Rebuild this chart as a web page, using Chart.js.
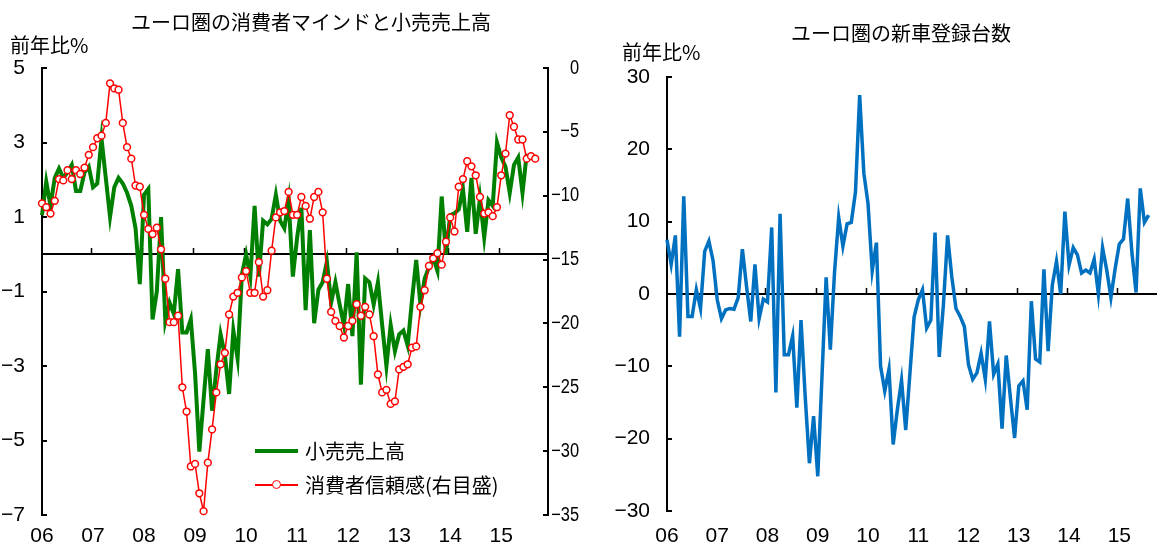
<!DOCTYPE html>
<html>
<head>
<meta charset="utf-8">
<script src="https://cdn.jsdelivr.net/npm/chart.js@4/dist/chart.umd.min.js"></script>
<style>
  html, body { margin: 0; padding: 0; background: #fff; }
  body { width: 1157px; height: 545px; position: relative; overflow: hidden; font-family: 'Noto Sans CJK JP', 'Noto Sans', sans-serif; color: #000; }
  canvas { position: absolute; top: 0; }
  #c1 { left: 0; }
  #c2 { left: 580px; }
  .t { position: absolute; font-size: 20px; line-height: 1; white-space: nowrap; }
  .lg-green { position: absolute; left: 255px; top: 449px; width: 43px; height: 4px; background: #008000; }
  .lg-red { position: absolute; left: 255px; top: 484px; width: 43px; height: 1.5px; background: #ff0000; }
  .lg-dot { position: absolute; left: 271.5px; top: 479.5px; width: 7px; height: 7px; border: 1.5px solid #ff0000; border-radius: 50%; background: #fff; }
</style>
</head>
<body>
<canvas id="c1" width="580" height="545"></canvas>
<canvas id="c2" width="577" height="545"></canvas>

<div class="t" style="left:131px;top:12px;">ユーロ圏の消費者マインドと小売売上高</div>
<div class="t" style="left:10px;top:35px;">前年比%</div>
<div class="t" style="left:791px;top:23px;">ユーロ圏の新車登録台数</div>
<div class="t" style="left:622px;top:42px;">前年比%</div>

<div class="lg-green"></div>
<div class="t" style="left:305px;top:441px;">小売売上高</div>
<div class="lg-red"></div>
<div class="lg-dot"></div>
<div class="t" style="left:305px;top:475px;">消費者信頼感(右目盛)</div>

<script>
// ---- data (monthly, Jan 2006 onward) ----
const yearLabels = ['06','07','08','09','10','11','12','13','14','15'];

// Euro area retail sales, % y/y (left axis), Jan 2006 - Jul 2015
const retailSales = [
  1.05, 1.95, 1.3, 2.05, 2.3, 2.05, 2.2, 2.4, 1.7, 1.7,
  2.2, 2.35, 1.8, 1.9, 3.1, 2.05, 1.0, 1.8, 2.05, 1.9,
  1.65, 1.3, 0.7, -0.8, 1.6, 1.75, -1.75, -1.0, 1.0, -1.8,
  -1.3, -1.6, -0.4, -2.1, -2.1, -1.75, -3.2, -5.3, -3.9, -2.55,
  -4.2, -3.1, -2.15, -2.7, -3.75, -2.05, -2.8, -0.55, 0.0, -0.6,
  1.3, -0.6, 0.9, 0.8, 0.95, 1.6, 0.9, 0.7, 1.45, -0.6,
  0.45, 1.25, -1.5, 0.65, -1.85, -0.95, -0.75, -0.2, -1.3, -0.75,
  -1.35, -1.9, -0.8, -2.2, 0.05, -3.5, -0.65, -0.75, -1.35, -0.75,
  -1.9, -3.0, -1.9, -2.6, -2.15, -2.05, -2.45, -1.25, -0.15, -1.35,
  -0.65, -0.35, -0.1, -0.45, 1.55, 0.0, 1.05, 1.1, 1.2, 1.75,
  0.6, 2.05, 0.55, 1.5, 0.45, 1.45, 1.3, 3.0, 2.6, 2.35,
  1.65, 2.4, 2.6, 1.65, 2.7
];

// Euro area consumer confidence (right axis), Jan 2006 - Sep 2015
const consumerConfidence = [
  -10.6, -10.9, -11.4, -10.4, -8.7, -8.8, -8.0, -8.7, -8.0, -8.3,
  -7.8, -6.8, -6.2, -5.5, -5.3, -4.3, -1.2, -1.6, -1.7, -4.3,
  -6.2, -7.1, -9.2, -9.3, -11.5, -12.6, -13.0, -12.5, -14.2, -16.5,
  -19.9, -19.9, -19.4, -25.0, -26.9, -31.2, -31.0, -33.3, -34.7, -30.9,
  -28.3, -25.4, -23.2, -22.3, -19.3, -17.9, -17.6, -16.4, -15.9, -17.6,
  -17.6, -15.2, -17.9, -17.4, -14.3, -11.7, -11.3, -11.2, -9.7, -11.5,
  -11.5, -10.1, -10.8, -11.8, -10.1, -9.7, -11.3, -16.5, -19.1, -19.8,
  -20.2, -21.1, -20.2, -19.8, -18.5, -19.4, -18.7, -19.3, -21.0, -24.0,
  -25.4, -25.2, -26.3, -26.1, -23.6, -23.4, -23.2, -21.9, -21.8, -18.7,
  -17.4, -15.5, -14.9, -14.5, -15.4, -13.6, -11.7, -12.8, -9.3, -8.7,
  -7.3, -7.7, -8.4, -10.1, -11.4, -11.3, -11.6, -10.9, -8.4, -6.7,
  -3.7, -4.6, -5.6, -5.6, -7.1, -6.9, -7.1
];

// Euro area new car registrations, % y/y, Jan 2006 - Aug 2015
const carRegistrations = [
  7.5, 4.1, 8.1, -5.9, 13.5, -3.1, -3.1, 0.6, -2.0, 5.9,
  7.3, 4.6, -0.8, -3.4, -2.2, -2.0, -2.1, -0.5, 6.2, 1.0,
  -3.8, 4.1, -3.4, -0.7, -1.1, 9.2, -13.6, 11.1, -8.4, -8.4,
  -5.8, -15.7, -3.6, -14.2, -23.4, -16.9, -25.2, -11.5, 2.3, -7.7,
  3.0, 10.6, 6.6, 9.7, 9.9, 14.1, 27.5, 16.7, 12.5, 3.2,
  7.1, -10.0, -13.4, -10.4, -20.8, -16.0, -11.9, -18.8, -11.0, -3.2,
  -0.8, 0.6, -4.7, -3.6, 8.5, -8.7, -1.5, 8.1, 2.4, -2.0,
  -3.1, -4.5, -9.8, -11.8, -10.9, -8.2, -11.8, -3.8, -11.1, -9.7,
  -18.6, -8.5, -14.4, -19.9, -12.7, -12.0, -16.0, -1.0, -9.0, -9.4,
  3.4, -7.9, 1.2, 4.5, 0.0, 11.4, 4.0, 6.4, 5.4, 2.9,
  3.3, 2.9, 4.8, 0.0, 6.4, 3.3, -0.5, 3.5, 6.9, 7.6,
  13.2, 5.8, 0.2, 14.6, 9.9, 10.9
];

// ---- helpers ----
const toPoints = arr => arr.map((v, i) => ({ x: i, y: v }));
const numFamily = "'Liberation Sans Narrow', 'Liberation Sans', 'Arial Narrow', sans-serif";
const numFont = { family: numFamily, size: 21 };
const fmt = v => (v < 0 ? '\u2212' + Math.abs(v) : String(v));

const axisDecor = {
  id: 'axisDecor',
  beforeDatasetsDraw(chart) {
    const ctx = chart.ctx, ca = chart.chartArea;
    const xs = chart.scales.x, ys = chart.scales.y;
    const y0 = Math.round(ys.getPixelForValue(0));
    ctx.save();
    ctx.strokeStyle = '#000';
    ctx.lineWidth = 2;
    ctx.beginPath();
    ctx.moveTo(ca.left, y0);
    ctx.lineTo(ca.right, y0);
    ctx.stroke();
    // year boundary tick marks on the zero line (pointing up)
    ctx.lineWidth = 1.5;
    ctx.beginPath();
    xs.ticks.forEach(t => {
      if (t.value <= 0) return;
      const px = Math.round(xs.getPixelForValue(t.value - 0.5)) + 0.5;
      ctx.moveTo(px, y0);
      ctx.lineTo(px, y0 - 6);
    });
    ctx.stroke();
    ctx.restore();
  },
  afterDraw(chart) {
    const ctx = chart.ctx, ca = chart.chartArea;
    ctx.save();
    ctx.strokeStyle = '#000';
    ctx.lineWidth = 2;
    ctx.beginPath();
    Object.values(chart.scales).forEach(s => {
      if (s.axis !== 'y') return;
      s.ticks.forEach(t => {
        const py = Math.round(s.getPixelForValue(t.value));
        if (s.position === 'left') {
          ctx.moveTo(ca.left, py); ctx.lineTo(ca.left + 5, py);
        } else {
          ctx.moveTo(ca.right, py); ctx.lineTo(ca.right - 5, py);
        }
      });
    });
    ctx.stroke();
    // right-axis labels: right-aligned, slightly condensed to fit beside the axis
    const s2 = chart.scales.y2;
    if (s2) {
      ctx.fillStyle = '#000';
      ctx.font = '20px ' + numFamily;
      ctx.textAlign = 'right';
      ctx.textBaseline = 'middle';
      s2.ticks.forEach(t => {
        const py = s2.getPixelForValue(t.value);
        ctx.save();
        ctx.translate(s2.right - 1, py);
        ctx.scale(0.82, 1);
        ctx.fillText(fmt(t.value), 0, 0);
        ctx.restore();
      });
    }
    ctx.restore();
  }
};

function xScale(maxVal, pad, height) {
  return {
    type: 'linear', position: 'bottom', min: 0, max: maxVal,
    afterBuildTicks(s) { s.ticks = yearLabels.map((_, i) => ({ value: i * 12 })); },
    ticks: { autoSkip: false, maxRotation: 0, minRotation: 0, padding: pad, color: '#000', font: numFont,
             callback: (v, i) => yearLabels[i] },
    grid: { display: false, drawTicks: false },
    border: { display: false },
    afterFit(s) { s.height = height; }
  };
}

const commonOpts = {
  responsive: false,
  animation: false,
  events: [],
  plugins: { legend: { display: false }, tooltip: { enabled: false }, title: { display: false } },
  elements: { line: { tension: 0 } }
};

// ---- left chart ----
new Chart(document.getElementById('c1'), {
  type: 'line',
  data: {
    datasets: [
      { label: '小売売上高', data: toPoints(retailSales), yAxisID: 'y', order: 2,
        borderColor: '#008000', borderWidth: 4, pointRadius: 0, fill: false, clip: false },
      { label: '消費者信頼感(右目盛)', data: toPoints(consumerConfidence), yAxisID: 'y2', order: 1,
        borderColor: '#ff0000', borderWidth: 1.5, pointRadius: 3.4, pointBorderWidth: 1.5,
        pointBackgroundColor: '#ffffff', pointBorderColor: '#ff0000', fill: false, clip: false }
    ]
  },
  options: Object.assign({}, commonOpts, {
    layout: { padding: { top: 68, left: 0, right: 0, bottom: 0 } },
    scales: {
      x: xScale(119, 9, 30),
      y: { position: 'left', min: -7, max: 5,
           ticks: { stepSize: 2, padding: 17, color: '#000', font: numFont, callback: fmt },
           grid: { display: true, drawOnChartArea: false, drawTicks: false },
           border: { display: true, color: '#000', width: 2 },
           afterFit(s) { s.width = 42; } },
      y2: { position: 'right', min: -35, max: 0,
            ticks: { stepSize: 5, display: false },
            grid: { display: true, drawOnChartArea: false, drawTicks: false },
            border: { display: true, color: '#000', width: 2 },
            afterFit(s) { s.width = 32; } }
    }
  }),
  plugins: [axisDecor]
});

// ---- right chart ----
new Chart(document.getElementById('c2'), {
  type: 'line',
  data: {
    datasets: [
      { label: '新車登録台数', data: toPoints(carRegistrations), yAxisID: 'y',
        borderColor: '#0070c0', borderWidth: 3.5, pointRadius: 0, fill: false, clip: false }
    ]
  },
  options: Object.assign({}, commonOpts, {
    layout: { padding: { top: 77, left: 0, right: 0, bottom: 0 } },
    scales: {
      x: xScale(117, 13, 34),
      y: { position: 'left', min: -30, max: 30,
           ticks: { stepSize: 10, padding: 17, color: '#000', font: numFont, callback: fmt },
           grid: { display: true, drawOnChartArea: false, drawTicks: false },
           border: { display: true, color: '#000', width: 2 },
           afterFit(s) { s.width = 87; } }
    }
  }),
  plugins: [axisDecor]
});
</script>
</body>
</html>
